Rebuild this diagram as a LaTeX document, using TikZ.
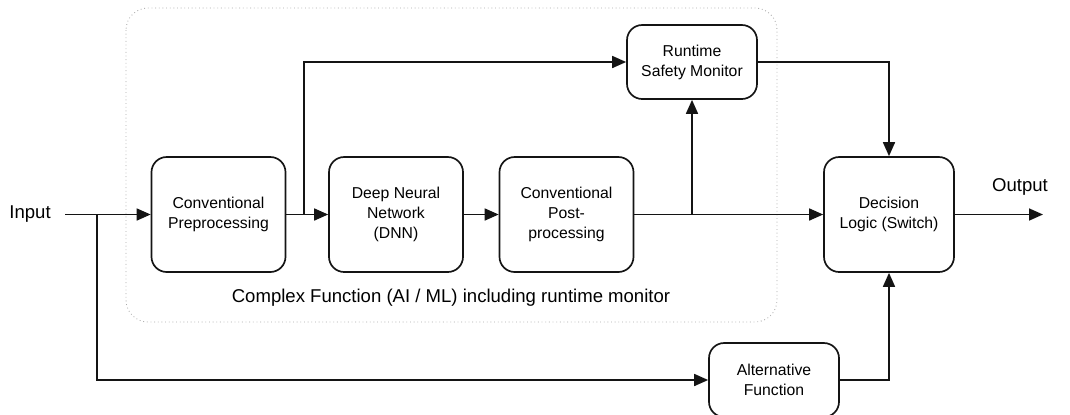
\documentclass[tikz,border=0pt]{standalone}
\usepackage{fontspec}
\setmainfont{Liberation Sans}
\usepackage{tikz}
\usetikzlibrary{positioning,arrows.meta}
\definecolor{framegray}{RGB}{170,170,170}
\definecolor{linedark}{RGB}{20,20,20}

\tikzset{
  block/.style={draw=linedark, line width=1.2pt, rounded corners=0.38cm, align=center,
    minimum width=3.35cm, minimum height=2.875cm, font=\fontsize{11.2}{14.2}\selectfont},
  smallblock/.style={block, minimum width=3.25cm, minimum height=1.85cm},
  flow/.style={-{Triangle[length=0.35cm, width=0.3cm]}, line width=1.2pt, draw=linedark},
  iotext/.style={font=\fontsize{13.2}{16}\selectfont}
}

\begin{document}
\begin{tikzpicture}
        \useasboundingbox (0,0) rectangle (26.75,-10.35);
        % dotted frame of the complex function
        \draw[framegray, dotted, line width=0.6pt, rounded corners=0.55cm] (3.15,-0.2) rectangle (19.425,-8.05);
        \node[iotext] (caption) at (11.275,-7.45) {Complex Function (AI / ML) including runtime monitor};

        \node[block] (pre) at (5.4625,-5.3625) {Conventional\\Preprocessing};
        \node[block] (dnn) at (9.9,-5.3625) {Deep Neural\\Network\\(DNN)};
        \node[block] (post) at (14.1625,-5.3625) {Conventional\\Post-\\processing};
        \node[smallblock, minimum width=3.25cm] (rsm) at (17.3,-1.55) {Runtime\\Safety Monitor};
        \node[block, minimum width=3.25cm] (dec) at (22.225,-5.3625) {Decision\\Logic (Switch)};
        \node[smallblock] (alt) at (19.35,-9.5) {Alternative\\Function};

        \node[iotext, anchor=east, inner xsep=0.35cm] (input) at (1.625,-5.3625) {Input};
        \node[iotext] (output) at (25.5,-4.675) {Output};
        \coordinate (out) at (26.075,-5.3625);
        \coordinate (tap0) at (2.425,-5.3625);
        \coordinate (tap1) at (7.6,-5.3625);
        \coordinate (tap2) at (rsm.south |- post.east);

        \draw[flow] (input.east) -- (pre.west);
        \draw[flow] (pre.east) -- (dnn.west);
        \draw[flow] (dnn.east) -- (post.west);
        \draw[flow] (post.east) -- (dec.west);
        \draw[flow] (tap1) |- (rsm.west);
        \draw[flow] (tap2) -- (rsm.south);
        \draw[flow] (rsm.east) -| (dec.north);
        \draw[flow] (tap0) |- (alt.west);
        \draw[flow] (alt.east) -| (dec.south);
        \draw[flow] (dec.east) -- (out);
    \end{tikzpicture}
\end{document}
